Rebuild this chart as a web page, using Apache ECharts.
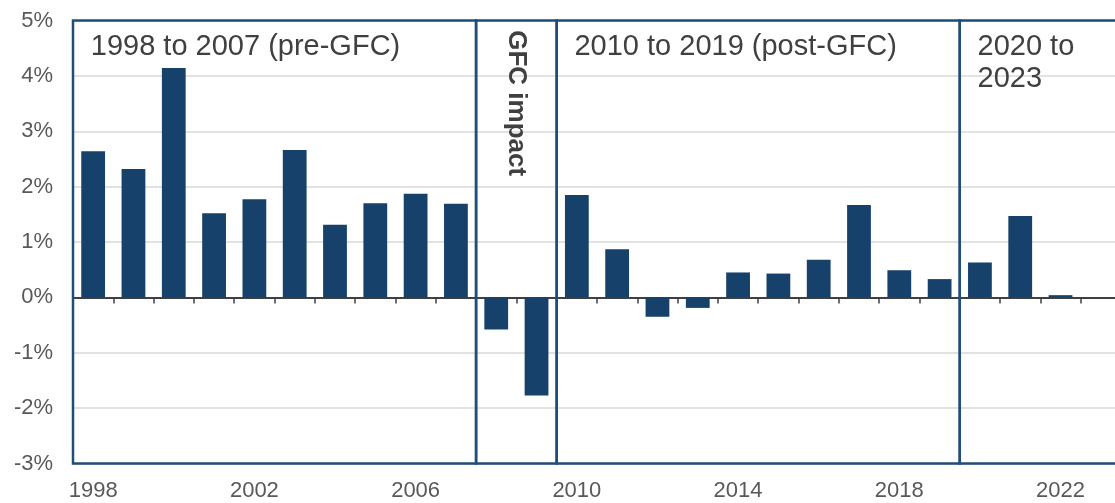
<!DOCTYPE html>
<html lang="en">
<head>
<meta charset="UTF-8">
<title>Annual change by period</title>
<script src="https://cdn.jsdelivr.net/npm/echarts@6/dist/echarts.min.js"></script>
<style>
    html, body { margin: 0; padding: 0; background: #fff; }
    #main { width: 1115px; height: 503px; }
</style>
</head>
<body>
<div id="main"></div>
<script>
    // data
    var years = ['1998', '1999', '2000', '2001', '2002', '2003', '2004', '2005', '2006', '2007',
        '2008', '2009', '2010', '2011', '2012', '2013', '2014', '2015', '2016', '2017',
        '2018', '2019', '2020', '2021', '2022', '2023'];
    var values = [2.64, 2.32, 4.14, 1.52, 1.77, 2.66, 1.31, 1.70, 1.87, 1.69,
        -0.58, -1.77, 1.85, 0.87, -0.35, -0.19, 0.45, 0.43, 0.68, 1.67,
        0.49, 0.33, 0.63, 1.47, 0.04, null];
    var yTicks = [-3, -2, -1, 0, 1, 2, 3, 4, 5];

    // period boxes, in category index units
    var periodNames = ['1998 to 2007 (pre-GFC)', 'GFC impact', '2010 to 2019 (post-GFC)', '2020 to\n2023'];
    var periodStart = [0, 10, 12, 22];
    var periodEnd = [10, 12, 22, 26];

    var textColor = '#595959';
    var boxColor = '#1f4e79';

    var myChart = echarts.init(document.getElementById('main'));

    var areas = periodNames.map(function (name, i) {
        var label = {
            show: true,
            position: 'insideTopLeft',
            offset: [14, 7],
            color: '#404040',
            fontSize: 29,
            lineHeight: 32,
            fontFamily: 'Liberation Sans, Arial, sans-serif'
        };
        if (name === 'GFC impact') {
            label = {
                show: true,
                position: 'insideTop',
                distance: 11,
                rotate: -90,
                align: 'left',
                verticalAlign: 'middle',
                color: '#404040',
                fontSize: 26,
                fontWeight: 'bold',
                fontFamily: 'Liberation Sans, Arial, sans-serif'
            };
        }
        return [
            { name: name, xAxis: periodStart[i], yAxis: yTicks[yTicks.length - 1], label: label },
            { xAxis: periodEnd[i], yAxis: yTicks[0] }
        ];
    });

    var option = {
        animation: false,
        textStyle: { fontFamily: 'Liberation Sans, Arial, sans-serif' },
        // plot runs past the right edge of the picture, as in the original crop
        grid: { left: 73, width: 1048, top: 20.5, bottom: 39.5, outerBoundsMode: 'none' },
        xAxis: [{
            type: 'category',
            data: years,
            position: 'bottom',
            axisLine: { show: false, onZero: false },
            axisTick: { show: false },
            axisLabel: { interval: 3, color: textColor, fontSize: 22, margin: 16 }
        }, {
            type: 'category',
            data: years,
            position: 'bottom',
            axisLine: { show: true, onZero: true, lineStyle: { color: '#404040', width: 2 } },
            axisTick: { show: true, interval: 0, length: 6, lineStyle: { color: '#404040', width: 1.5 } },
            axisLabel: { show: false }
        }, {
            type: 'value',
            min: 0,
            max: years.length,
            show: false
        }],
        yAxis: {
            type: 'value',
            min: yTicks[0],
            max: yTicks[yTicks.length - 1],
            interval: 1,
            axisLine: { show: false },
            axisTick: { show: false },
            axisLabel: { formatter: '{value}%', color: textColor, fontSize: 22, margin: 20 },
            splitLine: { lineStyle: { color: '#d9d9d9', width: 1.5 } }
        },
        series: [{
            type: 'bar',
            xAxisIndex: 0,
            data: values,
            barWidth: '59%',
            itemStyle: { color: '#15416b' },
            z: 1
        }, {
            type: 'line',
            xAxisIndex: 2,
            data: [[0, 0]],
            symbol: 'none',
            lineStyle: { opacity: 0 },
            silent: true,
            markArea: {
                silent: true,
                itemStyle: { color: 'rgba(0,0,0,0)', borderColor: boxColor, borderWidth: 2.5 },
                data: areas
            },
            z: 5
        }]
    };

    myChart.setOption(option);
</script>
</body>
</html>
